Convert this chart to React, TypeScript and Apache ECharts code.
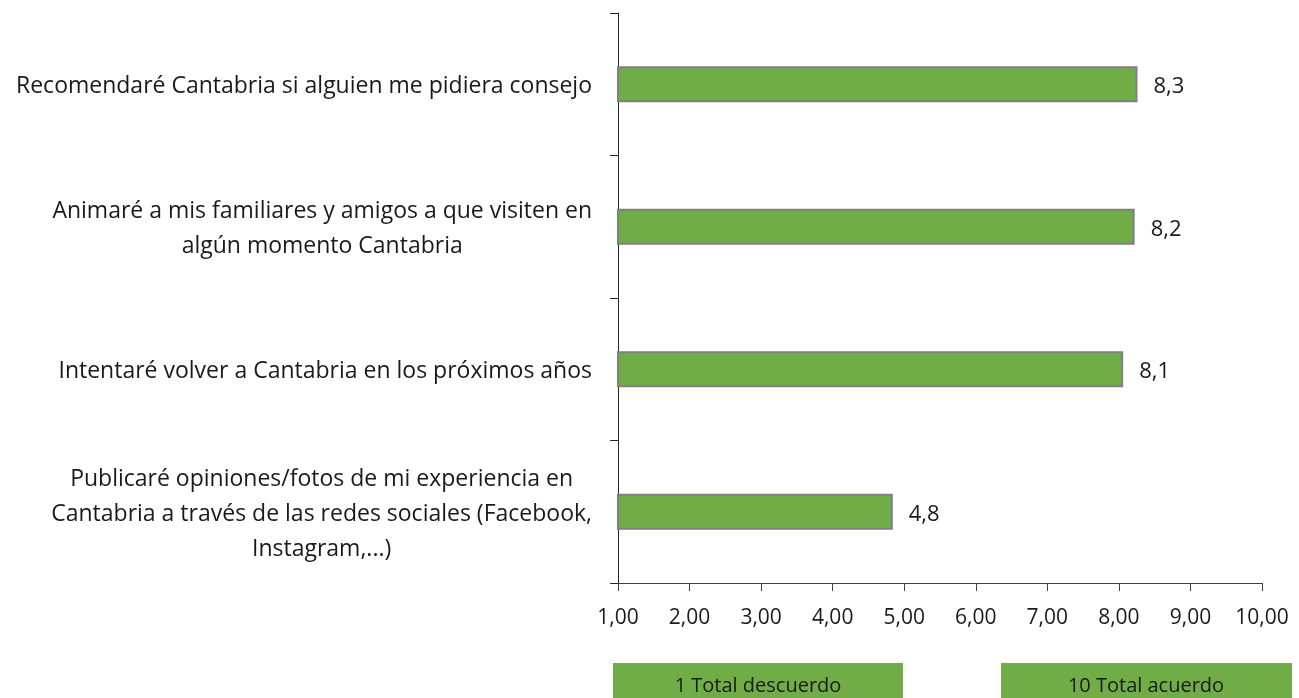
import React, { useEffect, useRef } from "react";
import * as echarts from "echarts";

const categories: string[] = [
  "Recomendaré Cantabria si alguien me pidiera consejo",
  "Animaré a mis familiares y amigos a que visiten en\nalgún momento Cantabria",
  "Intentaré volver a Cantabria en los próximos años",
  "Publicaré opiniones/fotos de mi experiencia en\nCantabria a través de las redes sociales (Facebook,\nInstagram,...)",
];
const values: number[] = [8.26, 8.22, 8.06, 4.84];
const axisMin = 1;
const axisMax = 10;
const legendLabels: string[] = ["1 Total descuerdo", "10 Total acuerdo"];

const FONT = "'Open Sans', sans-serif";
const TEXT = "#1a1a1a";
const GREEN = "#70AD47";

export default function App() {
  const ref = useRef<HTMLDivElement>(null);
  useEffect(() => {
    if (!ref.current) return;
    const chart = echarts.init(ref.current, null, { renderer: "svg" });
    chart.setOption({
      animation: false,
      grid: { left: 618, right: 37, top: 13, bottom: 115, containLabel: false },
      xAxis: {
        type: "value",
        min: axisMin,
        max: axisMax,
        interval: 1,
        splitLine: { show: false },
        axisLine: { show: true, lineStyle: { color: "#404040", width: 1 } },
        axisTick: { show: true, length: 8, lineStyle: { color: "#404040" } },
        axisLabel: {
          margin: 22,
          fontFamily: FONT,
          fontSize: 21,
          color: TEXT,
          formatter: (v: number) => v.toFixed(2).replace(".", ","),
        },
      },
      yAxis: {
        type: "category",
        inverse: true,
        data: categories,
        axisLine: { show: true, lineStyle: { color: "#262626", width: 1 } },
        axisTick: { show: true, length: 8, lineStyle: { color: "#262626" } },
        axisLabel: {
          margin: 26,
          align: "right",
          fontFamily: FONT,
          fontSize: 23,
          color: TEXT,
          lineHeight: 35,
          formatter: (v: string) =>
            v
              .split("\n")
              .map((l) => `{c|${l}}`)
              .join("\n"),
          rich: {
            c: {
              align: "center",
              fontFamily: FONT,
              fontSize: 23,
              color: TEXT,
              lineHeight: 35,
            },
          },
        },
      },
      series: [
        {
          type: "bar",
          data: values,
          barWidth: 36,
          itemStyle: { color: GREEN, borderColor: "#7f7f7f", borderWidth: 2 },
          label: {
            show: true,
            position: "right",
            distance: 16,
            fontFamily: FONT,
            fontSize: 22,
            color: TEXT,
            formatter: (p: any) => Number(p.value).toFixed(1).replace(".", ","),
          },
        },
      ],
      graphic: [
        {
          type: "rect",
          left: 613,
          top: 663,
          shape: { width: 290, height: 40 },
          style: { fill: GREEN },
        },
        {
          type: "text",
          x: 758,
          y: 684,
          style: {
            text: legendLabels[0],
            fontFamily: FONT,
            fontSize: 20,
            fill: TEXT,
            align: "center",
            verticalAlign: "middle",
          },
        },
        {
          type: "rect",
          left: 1001,
          top: 663,
          shape: { width: 291, height: 40 },
          style: { fill: GREEN },
        },
        {
          type: "text",
          x: 1146,
          y: 684,
          style: {
            text: legendLabels[1],
            fontFamily: FONT,
            fontSize: 20,
            fill: TEXT,
            align: "center",
            verticalAlign: "middle",
          },
        },
      ],
    });
    return () => chart.dispose();
  }, []);
  return (
    <div
      ref={ref}
      style={{ position: "fixed", left: 0, top: 0, width: 1299, height: 698 }}
    />
  );
}
